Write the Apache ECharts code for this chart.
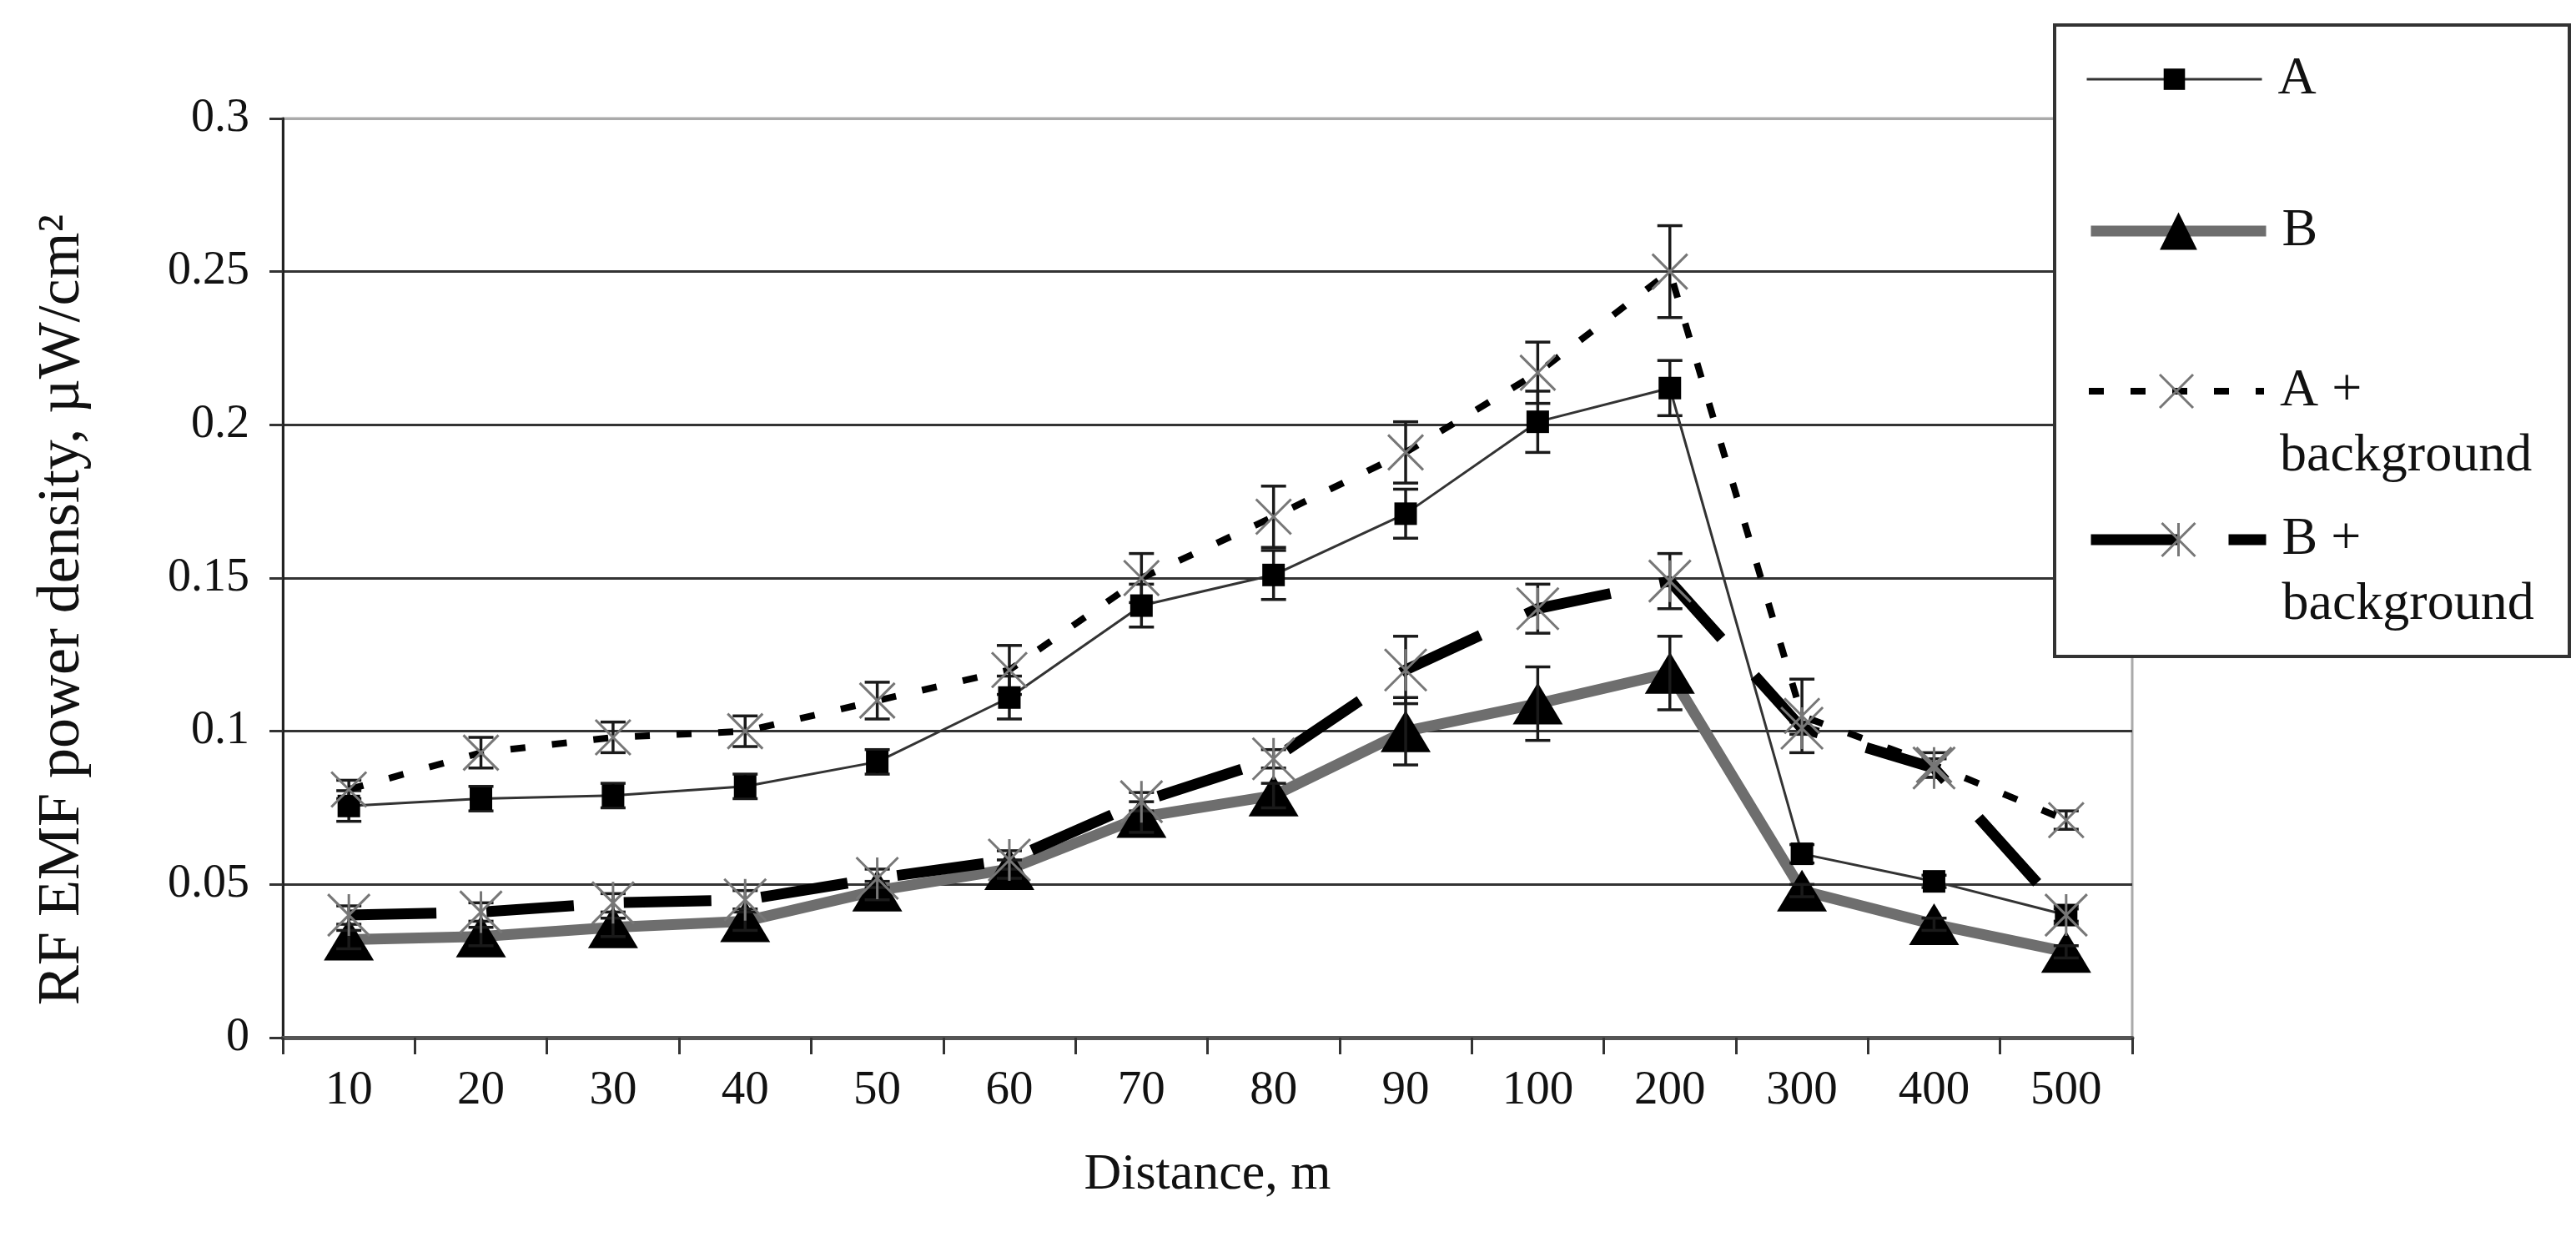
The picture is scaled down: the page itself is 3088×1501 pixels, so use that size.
<!DOCTYPE html>
<html>
<head>
<meta charset="utf-8">
<script src="https://cdn.jsdelivr.net/npm/echarts@6/dist/echarts.min.js"></script>
<style>
  html, body { margin: 0; padding: 0; background: #ffffff; }
  #chart { width: 3088px; height: 1501px; }
</style>
</head>
<body>
<div id="chart"></div>
<script>
// ---- data ----
const categories = ['10', '20', '30', '40', '50', '60', '70', '80', '90', '100', '200', '300', '400', '500'];
const seriesNames = ['A', 'B', 'A + background', 'B + background'];
const valuesA    = [0.0756, 0.078, 0.079, 0.082, 0.090, 0.111, 0.141, 0.151, 0.171, 0.201, 0.212, 0.060, 0.051, 0.040];
const valuesB    = [0.032, 0.033, 0.036, 0.038, 0.048, 0.055, 0.072, 0.079, 0.100, 0.109, 0.119, 0.048, 0.037, 0.028];
const valuesABg  = [0.081, 0.093, 0.098, 0.100, 0.110, 0.120, 0.150, 0.170, 0.191, 0.217, 0.250, 0.105, 0.089, 0.071];
const valuesBBg  = [0.040, 0.041, 0.044, 0.045, 0.052, 0.058, 0.077, 0.091, 0.120, 0.140, 0.149, 0.101, 0.088, 0.040];
const errA   = [0.005, 0.004, 0.004, 0.004, 0.004, 0.007, 0.007, 0.008, 0.008, 0.010, 0.009, 0.003, 0.002, 0.002];
const errB   = [0.003, 0.003, 0.003, 0.003, 0.003, 0.003, 0.005, 0.004, 0.011, 0.012, 0.012, 0.002, 0.002, 0.002];
const errABg = [0.003, 0.005, 0.005, 0.005, 0.006, 0.008, 0.008, 0.010, 0.010, 0.010, 0.015, 0.012, 0.004, 0.003];
const errBBg = [0.003, 0.003, 0.003, 0.003, 0.003, 0.003, 0.003, 0.003, 0.011, 0.008, 0.009, 0.002, 0.003, 0.003];
const yTicks = { min: 0, max: 0.3, interval: 0.05 };

const FONT = 'Liberation Serif';
const X_PATH = 'path://M0,0L10,10M10,0L0,10';
const STAR_PATH = 'path://M0,0L10,10M10,0L0,10M5,0L5,10';

const styleA   = { color: '#333', width: 3, type: 'solid' };
const styleB   = { color: '#6e6e6e', width: 13, type: 'solid' };
const styleABg = { color: '#000', width: 8, type: [18, 32], cap: 'butt' };
const styleBBg = { color: '#000', width: 13, type: [105, 60], cap: 'butt' };

function errData(vals, errs) {
  return vals.map((v, i) => [i, v - errs[i], v + errs[i]]);
}
function errSeries(vals, errs) {
  return {
    type: 'custom',
    silent: true,
    z: 4,
    data: errData(vals, errs),
    renderItem: function (params, api) {
      const x = api.value(0);
      const lo = api.coord([x, api.value(1)]);
      const hi = api.coord([x, api.value(2)]);
      const half = 15;
      const st = { stroke: '#1a1a1a', lineWidth: 3.5 };
      return {
        type: 'group',
        children: [
          { type: 'line', shape: { x1: lo[0], y1: lo[1], x2: hi[0], y2: hi[1] }, style: st },
          { type: 'line', shape: { x1: lo[0] - half, y1: lo[1], x2: lo[0] + half, y2: lo[1] }, style: st },
          { type: 'line', shape: { x1: hi[0] - half, y1: hi[1], x2: hi[0] + half, y2: hi[1] }, style: st }
        ]
      };
    }
  };
}

const chart = echarts.init(document.getElementById('chart'), null, { renderer: 'canvas' });

const LEG_LH = 78;
function legendAt(name, centerY, itemHeight, multi, lineStyle, itemStyle) {
  const lines = multi ? 3 : 1;
  return {
    data: [name],
    orient: 'vertical',
    left: 2500,
    top: centerY - lines * LEG_LH / 2,
    padding: 0,
    itemWidth: 210,
    itemHeight: itemHeight,
    selectedMode: false,
    z: 20,
    lineStyle: lineStyle,
    itemStyle: itemStyle,
    formatter: function (n) { return multi ? '\n' + n.replace(' background', '\nbackground') : n; },
    textStyle: {
      fontFamily: FONT, fontSize: 64, color: '#111',
      lineHeight: LEG_LH,
      padding: [0, 0, 0, 14]
    }
  };
}

chart.setOption({
  animation: false,
  backgroundColor: '#ffffff',
  textStyle: { fontFamily: FONT },
  grid: {
    left: 339, right: 532, top: 142, bottom: 257,
    show: true, borderColor: '#aaaaaa', borderWidth: 3
  },
  graphic: [{
    type: 'rect',
    z: 15,
    shape: { x: 2463, y: 30, width: 617, height: 757 },
    style: { fill: '#ffffff', stroke: '#333333', lineWidth: 4 }
  }],
  legend: [
    legendAt('A', 95, 32, false, styleA, { color: '#000' }),
    legendAt('B', 277, 56, false, styleB, { color: '#000' }),
    legendAt('A + background', 469, 50, true, styleABg, { color: 'transparent', borderColor: '#777', borderWidth: 3 }),
    legendAt('B + background', 647, 50, true, styleBBg, { color: 'transparent', borderColor: '#777', borderWidth: 3 })
  ],
  xAxis: {
    type: 'category',
    data: categories,
    boundaryGap: true,
    name: 'Distance, m',
    nameLocation: 'middle',
    nameGap: 165,
    nameTextStyle: { fontFamily: FONT, fontSize: 62, color: '#111', verticalAlign: 'middle' },
    axisLine: { lineStyle: { color: '#555', width: 5 } },
    axisTick: { show: true, interval: 0, length: 20, lineStyle: { color: '#333', width: 3 } },
    axisLabel: { interval: 0, margin: 36, fontFamily: FONT, fontSize: 57, color: '#111' },
    splitLine: { show: false }
  },
  yAxis: {
    type: 'value',
    min: yTicks.min, max: yTicks.max, interval: yTicks.interval,
    name: 'RF EMF power density, µW/cm²',
    nameLocation: 'middle',
    nameGap: 228,
    nameRotate: 90,
    nameTextStyle: { fontFamily: FONT, fontSize: 72, color: '#111', padding: [0, 76, 0, 0] },
    axisLine: { show: true, lineStyle: { color: '#222', width: 3 } },
    axisTick: { show: true, length: 16, lineStyle: { color: '#333', width: 3 } },
    axisLabel: { margin: 40, fontFamily: FONT, fontSize: 56, color: '#111' },
    splitLine: { show: true, lineStyle: { color: ['#333', '#333', '#333', '#333', '#333', '#333', '#aaaaaa'], width: 3 } }
  },
  series: [
    {
      name: seriesNames[0], type: 'line', data: valuesA, z: 5,
      symbol: 'rect', symbolSize: 27,
      lineStyle: styleA,
      itemStyle: { color: '#000' },
      emphasis: { disabled: true }
    },
    {
      name: seriesNames[1], type: 'line', data: valuesB, z: 3,
      symbol: 'triangle', symbolSize: [60, 50],
      lineStyle: styleB,
      itemStyle: { color: '#000' },
      emphasis: { disabled: true }
    },
    {
      name: seriesNames[2], type: 'line', data: valuesABg, z: 6,
      symbol: X_PATH, symbolSize: 42,
      lineStyle: styleABg,
      itemStyle: { color: 'transparent', borderColor: '#777', borderWidth: 3 },
      emphasis: { disabled: true }
    },
    {
      name: seriesNames[3], type: 'line', data: valuesBBg, z: 6,
      symbol: STAR_PATH, symbolSize: 50,
      lineStyle: styleBBg,
      itemStyle: { color: 'transparent', borderColor: '#777', borderWidth: 3 },
      emphasis: { disabled: true }
    },
    errSeries(valuesA, errA),
    errSeries(valuesB, errB),
    errSeries(valuesABg, errABg),
    errSeries(valuesBBg, errBBg)
  ]
});
</script>
</body>
</html>
